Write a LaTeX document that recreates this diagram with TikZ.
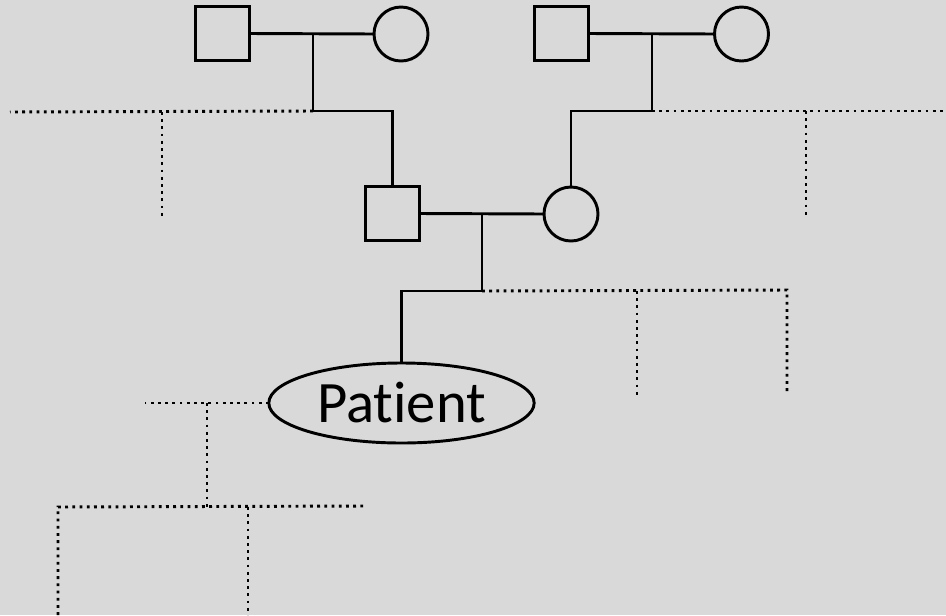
\documentclass[tikz,border=0pt]{standalone}
\usepackage{fontspec}
\setmainfont{Carlito}[Ligatures=NoCommon]
\usetikzlibrary{shapes.geometric}
\begin{document}
\begin{tikzpicture}[x=0.75pt,y=-0.75pt,
  male/.style={draw,rectangle,line width=2.2pt,minimum size=40.5pt,inner sep=0pt,outer sep=0pt},
  female/.style={draw,circle,line width=2.2pt,minimum size=40.5pt,inner sep=0pt,outer sep=0pt},
  proband/.style={draw,ellipse,line width=2.2pt,minimum width=199pt,minimum height=60pt,inner sep=0pt,outer sep=0pt,font=\fontsize{44}{52}\selectfont},
  solidline/.style={line width=2.2pt},
  dotline/.style={line width=2.2pt,dash pattern=on 2.1pt off 3.3pt}]
\fill[fill={rgb,255:red,217;green,217;blue,217}] (0,0) rectangle (946,615);
\useasboundingbox (0,0) rectangle (946,615);
% nodes
\node[male] (gf1) at (222.5,33.5) {};
\node[female] (gm1) at (401,34) {};
\node[male] (gf2) at (561.5,33.5) {};
\node[female] (gm2) at (741.5,34) {};
\node[male] (f) at (392.5,213.5) {};
\node[female] (m) at (571,214) {};
\node[proband] (p) at (401.5,403) {Patient};
% coordinates
\coordinate (j1) at (313,34);
\coordinate (j1b) at (313,111);
\coordinate (l1) at (10,112);
\coordinate (d1) at (162,112);
\coordinate (d1e) at (162,217);
\coordinate (j2) at (652,34);
\coordinate (j2b) at (652,111);
\coordinate (r1) at (946,111);
\coordinate (d2) at (806,111);
\coordinate (d2e) at (806,217);
\coordinate (j3) at (482,213.5);
\coordinate (j3b) at (482,291);
\coordinate (r3) at (787,290);
\coordinate (r3e) at (787,393);
\coordinate (d3) at (637,291);
\coordinate (d3e) at (637,396);
\coordinate (l4) at (145,403);
\coordinate (d4) at (207,403);
\coordinate (d4e) at (207,507);
\coordinate (h5l) at (58,507);
\coordinate (h5r) at (364,506);
\coordinate (h5b) at (58,615);
\coordinate (d5) at (248,507);
\coordinate (d5e) at (248,615);
% solid connectors
\draw[solidline] (gf1.east) -- (gm1.west);
\draw[solidline] (j1) -- (j1b) -| (f.north);
\draw[solidline] (gf2.east) -- (gm2.west);
\draw[solidline] (j2) -- (j2b) -| (m.north);
\draw[solidline] (f.east) -- (m.west);
\draw[solidline] (j3) -- (j3b) -| (p.north);
% dotted connectors
\draw[dotline] (j1b) -- (l1);
\draw[dotline] (d1) -- (d1e);
\draw[dotline] (j2b) -- (r1);
\draw[dotline] (d2) -- (d2e);
\draw[dotline] (j3b) -- (r3) -- (r3e);
\draw[dotline] (d3) -- (d3e);
\draw[dotline] (p.west) -- (l4);
\draw[dotline] (d4) -- (d4e);
\draw[dotline] (h5b) -- (h5l) -- (h5r);
\draw[dotline] (d5) -- (d5e);
\end{tikzpicture}
\end{document}
